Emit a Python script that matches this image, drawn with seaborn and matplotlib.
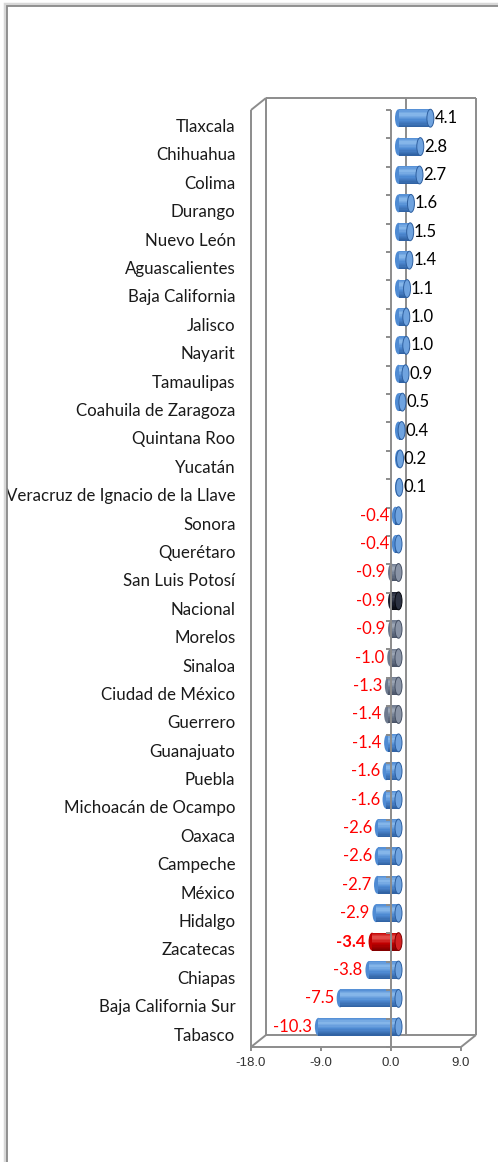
"""Horizontal cylinder-style bar chart of state values, saved to out.png."""

import matplotlib

matplotlib.use("Agg")
import matplotlib.pyplot as plt  # noqa: E402
import numpy as np  # noqa: E402
import seaborn as sns  # noqa: E402
from matplotlib.colors import to_rgb  # noqa: E402
from matplotlib.patches import Ellipse, Rectangle  # noqa: E402

states = [
    "Tlaxcala", "Chihuahua", "Colima", "Durango", "Nuevo León",
    "Aguascalientes", "Baja California", "Jalisco", "Nayarit", "Tamaulipas",
    "Coahuila de Zaragoza", "Quintana Roo", "Yucatán",
    "Veracruz de Ignacio de la Llave", "Sonora", "Querétaro",
    "San Luis Potosí", "Nacional", "Morelos", "Sinaloa", "Ciudad de México",
    "Guerrero", "Guanajuato", "Puebla", "Michoacán de Ocampo", "Oaxaca",
    "Campeche", "México", "Hidalgo", "Zacatecas", "Chiapas",
    "Baja California Sur", "Tabasco",
]
values = [
    4.1, 2.8, 2.7, 1.6, 1.5, 1.4, 1.1, 1.0, 1.0, 0.9, 0.5, 0.4, 0.2, 0.1,
    -0.4, -0.4, -0.9, -0.9, -0.9, -1.0, -1.3, -1.4, -1.4, -1.6, -1.6,
    -2.6, -2.6, -2.7, -2.9, -3.4, -3.8, -7.5, -10.3,
]
gray_states = ["San Luis Potosí", "Morelos", "Sinaloa", "Ciudad de México", "Guerrero"]
x_ticks = [-18.0, -9.0, 0.0, 9.0]

# base, highlight, shade, end face
shades = {
    "blue": ("#4F8BD3", "#8CBBEC", "#2E5F9F", "#6FA3DF"),
    "gray": ("#6E7A8E", "#A2ABBA", "#465063", "#8A94A6"),
    "black": ("#1B2030", "#474D5D", "#07090F", "#2C3242"),
    "red": ("#C00000", "#E65450", "#7E0000", "#D42222"),
}


def kind_of(name):
    if name == "Nacional":
        return "black"
    if name == "Zacatecas":
        return "red"
    if name in gray_states:
        return "gray"
    return "blue"


kinds = [kind_of(s) for s in states]

sns.set_style("white")
plt.rcParams["font.family"] = ["Lato", "DejaVu Sans"]

W, H = 498, 1162
fig = plt.figure(figsize=(W / 100, H / 100), dpi=100)
fig.patch.set_facecolor("white")

# mid plane of the 3D box, pixel geometry
left_px, right_px, top_px, bot_px = 258.5, 468.5, 104, 1041
ax = fig.add_axes([left_px / W, 1 - bot_px / H, (right_px - left_px) / W, (bot_px - top_px) / H])
ax.set_facecolor("none")

n = len(states)
xmin, xmax = -18, 9
bar_h = 0.63
DX = 7.5 * (xmax - xmin) / (right_px - left_px)
DY = 6 * n / (bot_px - top_px)
cap_w = 0.9

sns.barplot(
    x=values, y=states, hue=states, orient="h", legend=False, ax=ax,
    palette=[shades[k][0] for k in kinds], width=bar_h, saturation=1,
    edgecolor="none", zorder=3,
)

# shading profile across the cylinder, top (0) to bottom (1)
n_bands = 14
prof_t = [0.0, 0.28, 0.6, 1.0]
band_t = (np.arange(n_bands) + 0.5) / n_bands


def band_colors(base, hi, lo):
    stops = np.array([to_rgb(base), to_rgb(hi), to_rgb(base), to_rgb(lo)])
    return [tuple(np.interp(t, prof_t, stops[:, c]) for c in range(3)) for t in band_t]


for i, (v, k) in enumerate(zip(values, kinds)):
    base, hi, lo, face = shades[k]
    x0, x1 = min(0, v), max(0, v)
    # rounded far end
    ax.add_patch(Ellipse((x0, i), cap_w, bar_h, facecolor=base, edgecolor="none", zorder=2.5))
    ys = i - bar_h / 2 + band_t * bar_h
    ax.barh(ys, x1 - x0, left=x0, height=bar_h / n_bands * 1.05,
            color=band_colors(base, hi, lo), zorder=3.2, linewidth=0)
    # visible end face
    ax.add_patch(Ellipse((x1, i), cap_w, bar_h, facecolor=face, edgecolor=lo, linewidth=0.7, zorder=3.5))

# value labels
for i, (v, s) in enumerate(zip(values, states)):
    bold = "bold" if s == "Zacatecas" else "normal"
    if v > 0:
        ax.text(v + 0.5, i, f"{v:.1f}", ha="left", va="center", fontsize=12, color="black", zorder=5)
    else:
        ax.text(v - 0.8, i, f"{v:.1f}", ha="right", va="center", fontsize=12, color="#FF0000",
                fontweight=bold, zorder=5)

# category labels, aligned to the front plane
for i, s in enumerate(states):
    ax.text(xmin - DX - 2.0, i + DY + 0.1, s, ha="right", va="center", fontsize=12.2, color="#1a1a1a")

# 3D frame
lc, lw = "#8C8C8C", 1.4
top, bot = -0.5, n - 0.5


def back(x, y):
    return x + DX, y - DY


def front(x, y):
    return x - DX, y + DY


def seg(p, q, z=1):
    ax.plot([p[0], q[0]], [p[1], q[1]], color=lc, lw=lw, clip_on=False, zorder=z,
            solid_capstyle="butt")


seg(back(xmin, top), back(xmax, top))
seg(back(xmax, top), back(xmax, bot))
seg(back(xmin, top), back(xmin, bot))
seg(back(xmin, bot), back(xmax, bot))
seg(back(0, top), back(0, bot))
seg(front(xmin, top), front(xmin, bot))
seg(front(xmin, bot), front(xmax, bot))
seg(front(xmin, top), back(xmin, top))
seg(front(xmin, bot), back(xmin, bot))
seg(front(xmax, bot), back(xmax, bot))
seg(front(0, top), front(0, bot), z=4)

tick_len = 5 * (xmax - xmin) / (right_px - left_px)
for k in range(n + 1):
    y = k - 0.5
    seg(front(-tick_len, y), front(0, y), z=4)
for t in x_ticks:
    seg(front(t, bot), front(t, bot + 0.15), z=4)
    fx, fy = front(t, bot)
    ax.text(fx, fy + 0.35, f"{t:.1f}", ha="center", va="top", fontsize=9.5,
            family=["Liberation Sans", "DejaVu Sans"], color="#333333")

ax.set_xlim(xmin, xmax)
ax.set_ylim(n - 0.5, -0.5)
ax.set_xticks([])
ax.set_yticks([])
ax.set_xlabel("")
ax.set_ylabel("")
sns.despine(ax=ax, left=True, bottom=True)

# outer chart border with a soft shadow
fig.add_artist(Rectangle((5 / W, -0.1), 1.2, 1.1 - 4 / H, transform=fig.transFigure,
                         facecolor="none", edgecolor="#D8D8D8", linewidth=2.5))
fig.add_artist(Rectangle((7 / W, -0.1), 1.2, 1.1 - 6.5 / H, transform=fig.transFigure,
                         facecolor="none", edgecolor="#8A8A8A", linewidth=1.3))

fig.savefig("out.png", dpi=100)
plt.close(fig)
